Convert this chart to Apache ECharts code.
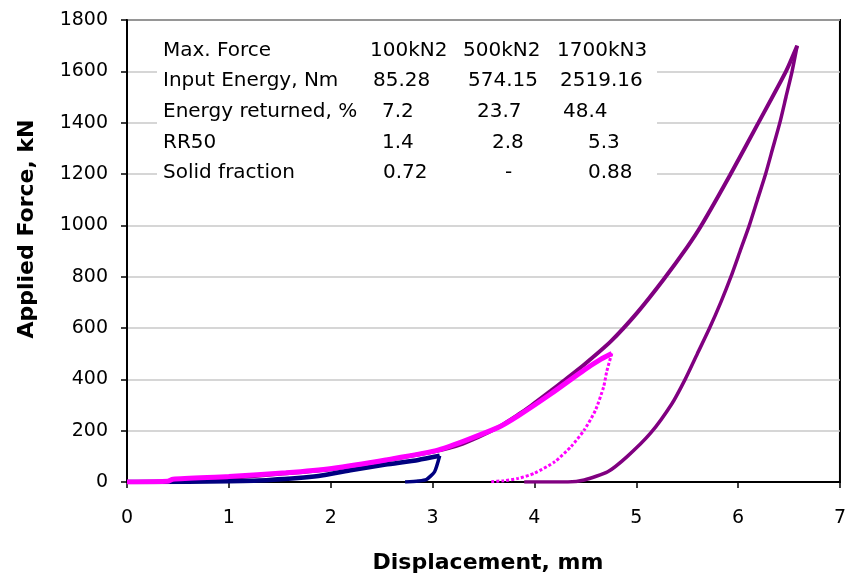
<!DOCTYPE html>
<html>
<head>
<meta charset="utf-8">
<script src="https://cdn.jsdelivr.net/npm/echarts@6/dist/echarts.min.js"></script>
<style>
  html, body { margin: 0; padding: 0; background: #fff; }
  #chart { width: 849px; height: 578px; }
</style>
</head>
<body>
<div id="chart"></div>
<script>
// displacement (mm), force (kN)
var load100 = [[0, 0], [0.6, 1], [1.0, 3], [1.4, 8], [1.88, 23], [2.21, 47], [2.54, 68], [2.86, 86], [3.07, 102]]
var unload100 = [[3.07, 102], [3.02, 40], [2.94, 10], [2.86, 4], [2.73, 0]]

var load500 = [[0, 0], [0.4, 3], [0.45, 11], [1.0, 21], [1.56, 36], [2.01, 53], [2.54, 86], [3.06, 125],
  [3.64, 212], [3.84, 258], [4.16, 343], [4.49, 437], [4.65, 478], [4.76, 501]]
var unload500 = [[4.76, 501], [4.75, 488], [4.71, 430], [4.68, 371], [4.60, 280], [4.49, 203], [4.36, 138],
  [4.20, 79], [4.0, 34], [3.84, 14], [3.70, 5], [3.56, 1]]

var load1700 = [[0, 0], [0.5, 3], [1.0, 16], [1.5, 32], [2.0, 50], [2.5, 82], [3.0, 118], [3.3, 150],
  [3.64, 212], [3.84, 262], [3.97, 298], [4.16, 355], [4.29, 395], [4.49, 458], [4.75, 548], [5.01, 660],
  [5.27, 790], [5.50, 915], [5.64, 1000], [5.92, 1195], [6.20, 1400], [6.47, 1600], [6.58, 1700]]
var unload1700 = [[6.58, 1700], [6.53, 1600], [6.47, 1500], [6.41, 1400], [6.34, 1300], [6.27, 1200],
  [6.19, 1100], [6.11, 1000], [6.02, 900], [5.93, 800], [5.83, 700], [5.72, 600], [5.60, 500], [5.48, 400],
  [5.35, 305], [5.14, 190], [4.91, 99], [4.72, 40], [4.49, 8], [4.33, 0], [3.9, 0]]

// table in the plot
var rowLabels = ['Max. Force', 'Input Energy, Nm', 'Energy returned, %', 'RR50', 'Solid fraction']
var col100 = ['100kN2', '85.28', '7.2', '1.4', '0.72']
var col500 = ['500kN2', '574.15', '23.7', '2.8', '-']
var col1700 = ['1700kN3', '2519.16', '48.4', '5.3', '0.88']

var chart = echarts.init(document.getElementById('chart'))

var font = 'DejaVu Sans'
var rowY = [51, 81, 112, 143, 173]
var colX = [
  [370, 373, 382, 382, 383],
  [463, 468, 477, 492, 505],
  [557, 560, 563, 588, 588]
]

var graphics = [{ type: 'rect', z: 50, shape: { x: 157, y: 30, width: 500, height: 160 }, style: { fill: '#fff' } }]
rowLabels.forEach(function(label, i) {
  graphics.push({ type: 'text', z: 51, x: 163, y: rowY[i], style: { text: label, font: '20px ' + font, fill: '#000', textVerticalAlign: 'middle' } })
  ;[col100, col500, col1700].forEach(function(col, j) {
    graphics.push({ type: 'text', z: 51, x: colX[j][i], y: rowY[i], style: { text: col[i], font: '20px ' + font, fill: '#000', textVerticalAlign: 'middle' } })
  })
})
graphics.push({
  type: 'text',
  x: 27,
  y: 229,
  rotation: Math.PI / 2,
  style: { text: 'Applied Force, kN', font: 'bold 22px ' + font, fill: '#000', textAlign: 'center', textVerticalAlign: 'middle' }
})
graphics.push({
  type: 'text',
  x: 488,
  y: 563,
  style: { text: 'Displacement, mm', font: 'bold 22px ' + font, fill: '#000', textAlign: 'center', textVerticalAlign: 'middle' }
})

function curve(name, data, color, width, dash) {
  return {
    name: name,
    type: 'line',
    data: data,
    showSymbol: false,
    smooth: 0.2,
    animation: false,
    lineStyle: { color: color, width: width, type: dash || 'solid' }
  }
}

chart.setOption({
  backgroundColor: '#fff',
  animation: false,
  grid: {
    left: 127,
    right: 5,
    top: 20,
    bottom: 96,
    show: true,
    borderColor: '#000',
    borderWidth: 2
  },
  xAxis: {
    type: 'value',
    min: 0,
    max: 7,
    interval: 1,
    axisLine: { lineStyle: { color: '#000', width: 2 } },
    axisTick: { show: true, length: 6, lineStyle: { color: '#000', width: 1.5 } },
    axisLabel: { color: '#000', fontFamily: font, fontSize: 19, margin: 27 },
    splitLine: { show: false }
  },
  yAxis: {
    type: 'value',
    min: 0,
    max: 1800,
    interval: 200,
    axisLine: { show: true, lineStyle: { color: '#000', width: 2 } },
    axisTick: { show: true, length: 6, lineStyle: { color: '#000', width: 1.5 } },
    axisLabel: {
      color: '#000', fontFamily: font, fontSize: 19, margin: 19,
      formatter: function(v) { return String(v) }
    },
    splitLine: { show: true, lineStyle: { color: '#c8c8c8', width: 1.5 } }
  },
  graphic: graphics,
  series: [
    curve('1700kN3 loading', load1700, '#800080', 4),
    curve('1700kN3 unloading', unload1700, '#800080', 3.5),
    curve('100kN2 loading', load100, '#000080', 4.5),
    curve('100kN2 unloading', unload100, '#000080', 3.5),
    curve('500kN2 loading', load500, '#ff00ff', 5),
    curve('500kN2 unloading', unload500, '#ff00ff', 3, [3, 2])
  ]
})
</script>
</body>
</html>
